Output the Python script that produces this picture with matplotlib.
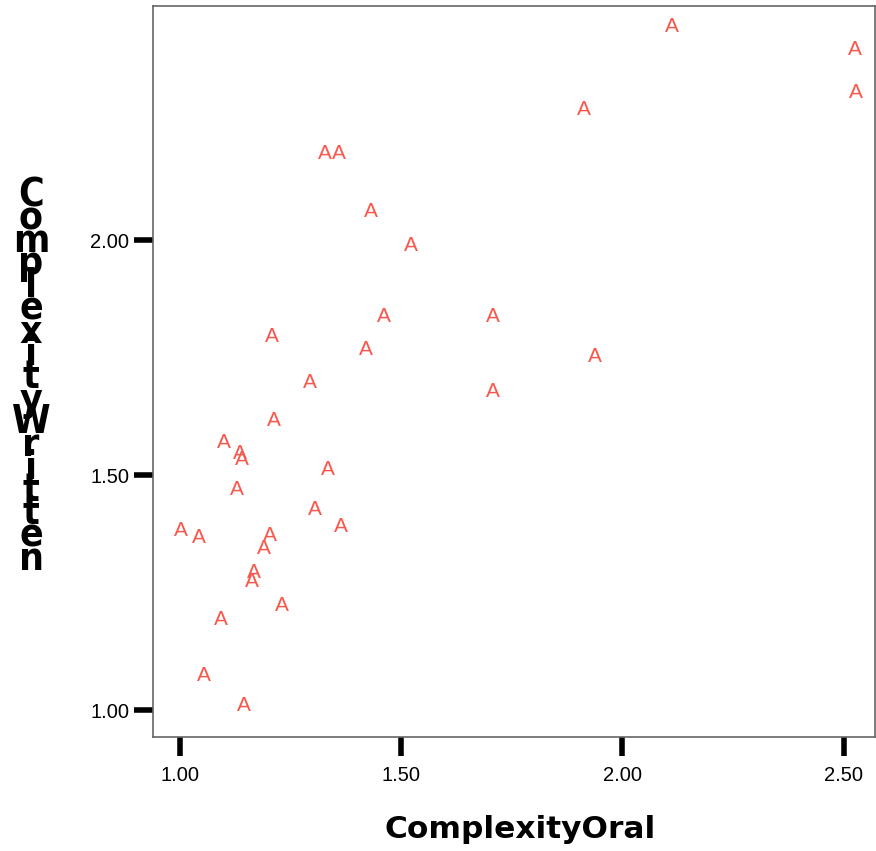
import matplotlib
matplotlib.use("Agg")
import matplotlib.pyplot as plt

complexity_oral = [2.113, 2.526, 2.528, 1.912, 1.327, 1.359, 1.431, 1.521, 1.460, 1.707,
                   1.208, 1.420, 1.293, 1.707, 1.937, 1.212, 1.099, 1.135, 1.139, 1.334,
                   1.128, 1.305, 1.363, 1.001, 1.042, 1.204, 1.190, 1.168, 1.163, 1.231,
                   1.093, 1.053, 1.145]
complexity_written = [2.455, 2.406, 2.315, 2.277, 2.185, 2.185, 2.060, 1.989, 1.838, 1.838,
                      1.796, 1.768, 1.698, 1.677, 1.753, 1.617, 1.570, 1.547, 1.534, 1.513,
                      1.470, 1.426, 1.390, 1.383, 1.367, 1.372, 1.345, 1.292, 1.273, 1.222,
                      1.194, 1.074, 1.011]
labels = ["A"] * len(complexity_oral)
x_ticks = [1.0, 1.5, 2.0, 2.5]
y_ticks = [1.0, 1.5, 2.0]
x_title = "ComplexityOral"
y_title = "ComplexityWritten"

fig = plt.figure(figsize=(8.76, 8.51), dpi=100)
ax = fig.add_axes([153/876, (851-737)/851, (875-153)/876, (737-6)/851])

for x, y, lab in zip(complexity_oral, complexity_written, labels):
    ax.text(x, y, lab, color="#F9574C", fontsize=15, ha="center", va="center",
            family="Liberation Sans")

ax.set_xlim(0.939, 2.571)
ax.set_ylim(0.943, 2.498)
ax.set_xticks(x_ticks)
ax.set_yticks(y_ticks)
ax.set_xticklabels([f"{v:.2f}" for v in x_ticks])
ax.set_yticklabels([f"{v:.2f}" for v in y_ticks])
ax.tick_params(axis="both", length=14, width=4, color="black", labelsize=14.5,
               labelcolor="black")
ax.tick_params(axis="x", pad=7)
ax.tick_params(axis="y", pad=3)
for lab in ax.get_xticklabels() + ax.get_yticklabels():
    lab.set_family("Liberation Sans")
for sp in ax.spines.values():
    sp.set_color("#666666")
    sp.set_linewidth(1.2)

fig.text(520/876, 1 - 830/851, x_title, fontsize=22.5, ha="center", va="center",
         family="DejaVu Sans", fontweight="bold")
fig.text(31/876, 1 - 377/851, "\n".join(y_title), fontsize=28, ha="center", va="center",
         family="DejaVu Sans", fontstretch="condensed", fontweight="bold",
         linespacing=0.49)

fig.savefig("out.png", dpi=100)
